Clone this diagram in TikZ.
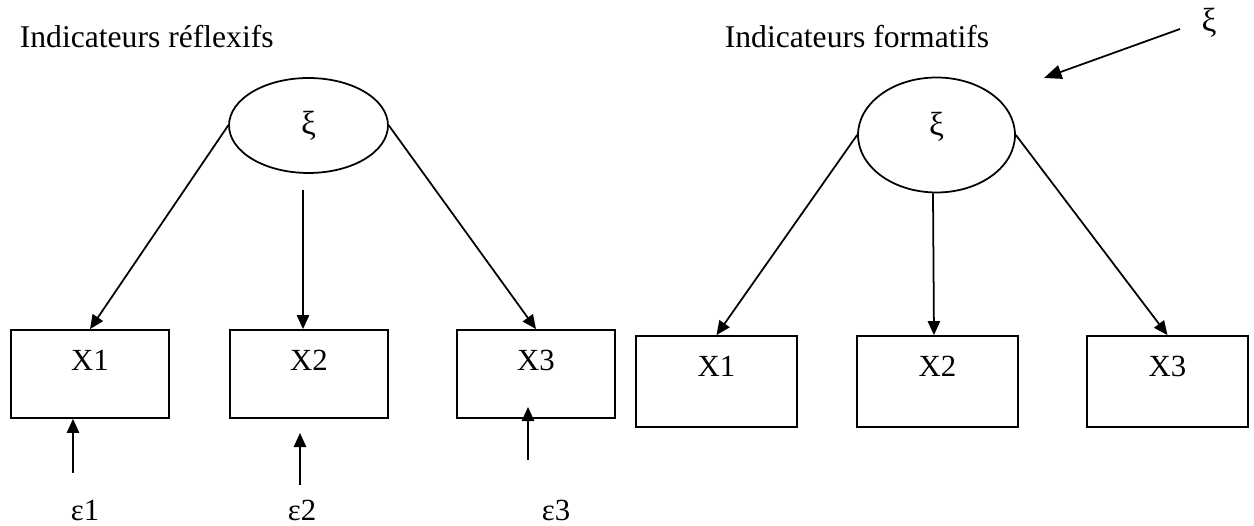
\documentclass[tikz,border=0pt]{standalone}
\usepackage{fontspec}
\setmainfont{Liberation Serif}
\usetikzlibrary{arrows.meta,shapes.geometric}

\begin{document}
\begin{tikzpicture}[x=0.02cm, y=0.02cm, >={Triangle[length=8pt,width=7pt]}, line width=1pt,
  title/.style={anchor=base west, inner sep=0pt, font=\fontsize{18}{22}\selectfont},
  lat/.style={draw, ellipse, inner sep=0pt, font=\fontsize{19}{22}\selectfont},
  ind/.style={draw, anchor=base, inner sep=0pt, text height=0.82cm, font=\fontsize{17.5}{20}\selectfont},
  err/.style={anchor=base, inner sep=0pt, font=\fontsize{17.5}{20}\selectfont}]
  \useasboundingbox (0,0) rectangle (1254,526);
  \node[title] (tref) at (19,478) {Indicateurs réflexifs};
  \node[title] (tform) at (724,478) {Indicateurs formatifs};
  \node[lat, minimum width=3.18cm, minimum height=1.9cm] (xir) at (308.5,400.5) {ξ};
  \node[lat, minimum width=3.14cm, minimum height=2.3cm, text depth=0.45cm] (xif) at (936.5,391) {ξ};
  \node[err, font=\fontsize{19}{22}\selectfont] (xiext) at (1209,494) {ξ};
  \node[ind, minimum width=3.16cm, text depth=0.94cm] (r1) at (90,155) {X1};
  \node[ind, minimum width=3.16cm, text depth=0.94cm] (r2) at (309,155) {X2};
  \node[ind, minimum width=3.16cm, text depth=0.94cm] (r3) at (536,155) {X3};
  \node[ind, minimum width=3.22cm, text depth=1.0cm] (f1) at (716.5,149) {X1};
  \node[ind, minimum width=3.22cm, text depth=1.0cm] (f2) at (937.5,149) {X2};
  \node[ind, minimum width=3.22cm, text depth=1.0cm] (f3) at (1167.5,149) {X3};
  \node[err] (e1) at (85,5) {ε1};
  \node[err] (e2) at (302,5) {ε2};
  \node[err] (e3) at (556,5) {ε3};
  \coordinate (t2) at (303,336);
  \coordinate (e1t) at (73,53);
  \coordinate (e2t) at (300,41);
  \coordinate (e2h) at (300,93);
  \coordinate (e3t) at (528,66);
  \coordinate (e3h) at (528,119);
  \coordinate (xtail) at (1180,497);
  \coordinate (xtip) at (1044,448);
  \draw[->] (xir.west) -- (r1.north);
  \draw[->] (t2) -- (t2 |- r2.north);
  \draw[->] (xir.east) -- (r3.north);
  \draw[->] (xif.west) -- (f1.north);
  \draw[->] ([xshift=-2pt]xif.south) -- ([xshift=-2pt]f2.north);
  \draw[->] (xif.east) -- (f3.north);
  \draw[->] (e1t) -- (e1t |- r1.south);
  \draw[->] (e2t) -- (e2h);
  \draw[->] (e3t) -- (e3h);
  \draw[-{Triangle[length=10pt,width=8pt]}] (xtail) -- (xtip);
\end{tikzpicture}
\end{document}
